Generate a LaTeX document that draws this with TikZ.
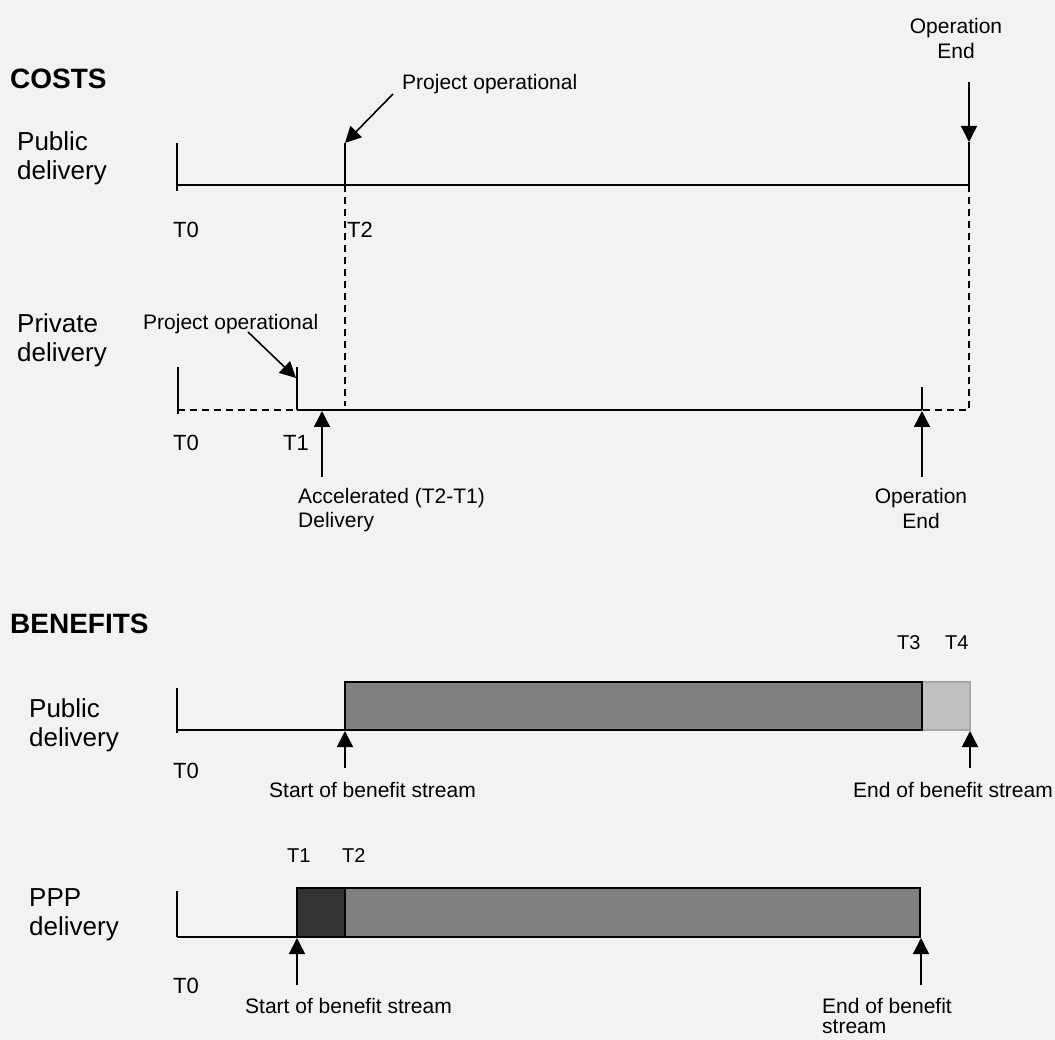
\documentclass[tikz,border=0pt]{standalone}
\usepackage{fontspec}
\setmainfont{Liberation Sans}
\usetikzlibrary{arrows.meta}
\definecolor{bgc}{HTML}{F2F2F2}
\definecolor{midgrey}{HTML}{808080}
\definecolor{lightgrey}{HTML}{C0C0C0}
\definecolor{lightedge}{HTML}{A6A6A6}
\definecolor{darkgrey}{HTML}{333333}
\begin{document}
\begin{tikzpicture}[x=1pt,y=-1pt,
  heading/.style={font=\bfseries\fontsize{28}{32}\selectfont, inner sep=0pt, anchor=base west},
  rowlabel/.style={font=\fontsize{26}{29}\selectfont, inner sep=0pt, align=left, anchor=north west},
  small/.style={font=\fontsize{21}{24}\selectfont, inner sep=0pt},
  tlab/.style={font=\fontsize{22}{26}\selectfont, inner sep=0pt, anchor=base west},
  tlabs/.style={font=\fontsize{20}{24}\selectfont, inner sep=0pt, anchor=base west},
  axisline/.style={line width=2pt},
  tickline/.style={line width=1.6pt},
  dline/.style={line width=1.6pt, dash pattern=on 7pt off 5pt},
  arr/.style={line width=1.6pt, -{Triangle[width=16pt,length=16pt]}},
  bar/.style={draw=black, line width=1.6pt},
]
\fill[bgc] (0,0) rectangle (1055,1040);
\useasboundingbox (0,0) rectangle (1055,1040);

% ================= COSTS =================
\node[heading] (costs) at (10,89) {COSTS};
\node[rowlabel] (pubc) at (17,131) {Public\\delivery};
\node[small, anchor=base west] (projop1) at (402,90) {Project operational};
\node[small, align=center, anchor=north, font=\fontsize{21}{25}\selectfont] (opend1) at (956,18) {Operation\\End};
\node[tlab] (t0a) at (173,238) {T0};
\node[tlab] (t2a) at (347,238) {T2};

\coordinate (a0top) at (177,143);
\coordinate (a0bot) at (177,191);
\coordinate (a0) at (177,185);
\coordinate (a2top) at (345,143);
\coordinate (a2) at (345,185);
\coordinate (aend) at (969,185);
\coordinate (aendtip) at (969,142);
\coordinate (aendtail) at (969,82);
\coordinate (projtail1) at (393,94);

\draw[axisline] (a0) -- (aend);
\draw[tickline] (a0top) -- (a0bot);
\draw[tickline] (a2top) -- (a2);
\draw[arr] (projtail1) -- (a2top);
\draw[arr] (aendtail) -- (aendtip);
\draw[tickline] (aendtip) -- (aend);

% private delivery
\node[rowlabel] (privc) at (17,313) {Private\\delivery};
\node[small, anchor=base west] (projop2) at (143,330) {Project operational};
\node[tlab] (t0b) at (173,450) {T0};
\node[tlab] (t1b) at (283,450) {T1};
\node[small, align=left, anchor=north west] (accel) at (298,488) {Accelerated (T2-T1)\\Delivery};
\node[small, align=center, anchor=north, font=\fontsize{21}{25}\selectfont] (opend2) at (921,488) {Operation\\End};

\coordinate (b0top) at (178,367);
\coordinate (b0bot) at (178,414);
\coordinate (b0) at (178,410);
\coordinate (b1top) at (297,367);
\coordinate (b1) at (297,410);
\coordinate (b2) at (345,406);
\coordinate (bend) at (922,410);
\coordinate (bendtop) at (922,387);
\coordinate (bendtip) at (922,411);
\coordinate (bendtail) at (922,477);
\coordinate (bright) at (969,410);
\coordinate (acctip) at (322,411);
\coordinate (acctail) at (322,477);
\coordinate (projtail2) at (248,332);
\coordinate (projtip2) at (296,378);

\draw[dline] (a2) -- (b2);
\draw[dline] (aend) -- (bright) -- (bend);
\draw[dline] (b0) -- (b1);
\draw[axisline] (b1) -- (bend);
\draw[tickline] (b0top) -- (b0bot);
\draw[tickline] (b1top) -- (b1);
\draw[tickline] (bendtop) -- (bend);
\draw[arr] (projtail2) -- (projtip2);
\draw[arr] (acctail) -- (acctip);
\draw[arr] (bendtail) -- (bendtip);

% ================= BENEFITS =================
\node[heading] (benefits) at (10,633) {BENEFITS};
\node[tlabs] (t3c) at (897,649) {T3};
\node[tlabs] (t4c) at (945,649) {T4};
\node[rowlabel] (pubb) at (29,698) {Public\\delivery};
\node[tlab] (t0c) at (173,778) {T0};
\node[small, anchor=base west] (startc) at (269,797) {Start of benefit stream};
\node[small, anchor=base west] (endc) at (853,797) {End of benefit stream};

\coordinate (c0top) at (177,688);
\coordinate (c0bot) at (177,733);
\coordinate (c0) at (177,730);
\coordinate (c2) at (345,730);
\coordinate (c3) at (922,730);
\coordinate (c4) at (970,730);
\coordinate (cstarttip) at (345,731);
\coordinate (cstarttail) at (345,768);
\coordinate (cendtip) at (970,731);
\coordinate (cendtail) at (970,768);

\draw[tickline] (c0top) -- (c0bot);
\draw[axisline] (c0) -- (c2);
\draw[fill=lightgrey, draw=lightedge, line width=1.6pt] (922,682) rectangle (c4);
\draw[bar, fill=midgrey] (345,682) rectangle (c3);
\draw[arr] (cstarttail) -- (cstarttip);
\draw[arr] (cendtail) -- (cendtip);

% PPP delivery
\node[tlabs] (t1d) at (287,862) {T1};
\node[tlabs] (t2d) at (342,862) {T2};
\node[rowlabel] (pppd) at (29,888) {PPP\\delivery};
\node[tlab] (t0d) at (173,993) {T0};
\node[small, anchor=base west] (startd) at (245,1013) {Start of benefit stream};
\node[small, align=left, anchor=north west, font=\fontsize{21}{20}\selectfont] (endd) at (822,998) {End of benefit\\stream};

\coordinate (d0top) at (177,891);
\coordinate (d0) at (177,937);
\coordinate (d1) at (297,937);
\coordinate (d2) at (345,937);
\coordinate (d3) at (920,937);
\coordinate (dstarttip) at (297,938);
\coordinate (dstarttail) at (297,985);
\coordinate (dendtip) at (921,938);
\coordinate (dendtail) at (921,985);

\draw[tickline] (d0top) -- (d0);
\draw[axisline] (d0) -- (d1);
\draw[bar, fill=darkgrey] (297,888) rectangle (d2);
\draw[bar, fill=midgrey] (345,888) rectangle (d3);
\draw[arr] (dstarttail) -- (dstarttip);
\draw[arr] (dendtail) -- (dendtip);
\end{tikzpicture}
\end{document}
